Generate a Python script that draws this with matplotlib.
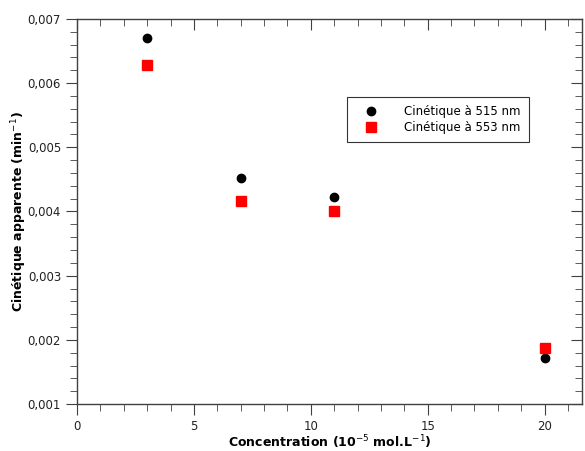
import matplotlib.pyplot as plt
from matplotlib.ticker import MultipleLocator, FixedLocator

# data
conc = [3, 7, 11, 20]
k_515 = [0.00670, 0.00452, 0.00423, 0.00172]
k_553 = [0.00629, 0.00417, 0.00401, 0.00187]

x_ticks = [0, 5, 10, 15, 20]
y_ticks = [0.001, 0.002, 0.003, 0.004, 0.005, 0.006, 0.007]
y_labels = ["0,001", "0,002", "0,003", "0,004", "0,005", "0,006", "0,007"]

plt.rcParams['font.family'] = ['DejaVu Sans']
axc = "#404040"

fig = plt.figure(figsize=(5.85, 4.51), dpi=100)
ax = fig.add_axes([0.1316, 0.1042, 0.8633, 0.8537])

ax.plot(conc, k_515, "o", color="black", markersize=6, label="Cinétique à 515 nm")
ax.plot(conc, k_553, "s", color="red", markersize=7, label="Cinétique à 553 nm")

ax.set_xlim(0, 21.6)
ax.set_ylim(0.001, 0.007)
ax.xaxis.set_major_locator(FixedLocator(x_ticks))
ax.xaxis.set_minor_locator(MultipleLocator(1))
ax.yaxis.set_major_locator(FixedLocator(y_ticks))
ax.set_yticklabels(y_labels)
ax.yaxis.set_minor_locator(MultipleLocator(0.0002))

for s in ax.spines.values():
    s.set_color(axc)
    s.set_linewidth(1)

ax.tick_params(axis="both", which="both", colors=axc, labelcolor="#222222", labelsize=8.5)
ax.tick_params(axis="x", which="both", direction="out", top=True)
ax.tick_params(axis="y", which="both", direction="out", right=True)
ax.tick_params(axis="x", which="major", length=8)
ax.tick_params(axis="x", which="minor", length=5)
ax.tick_params(axis="y", which="major", length=8)
ax.tick_params(axis="y", which="minor", length=5)
# top and right ticks point inward
for t in ax.xaxis.get_major_ticks() + ax.xaxis.get_minor_ticks():
    t.tick2line.set_marker(3)
for t in ax.yaxis.get_major_ticks() + ax.yaxis.get_minor_ticks():
    t.tick2line.set_marker(0)

ax.set_xlabel("Concentration (10$^{-5}$ mol.L$^{-1}$)", fontsize=9, fontweight="bold", labelpad=0)
ax.set_ylabel("Cinétique apparente (min$^{-1}$)", fontsize=9, fontweight="bold", labelpad=-1)

leg = ax.legend(loc="upper left", bbox_to_anchor=(0.535, 0.797), fontsize=8.5,
                frameon=True, fancybox=False, borderpad=0.7, handletextpad=1.5,
                borderaxespad=0, labelspacing=0.2, handlelength=2.6)
leg.get_frame().set_edgecolor("black")
leg.get_frame().set_linewidth(0.8)

fig.savefig("out.png", dpi=100)
